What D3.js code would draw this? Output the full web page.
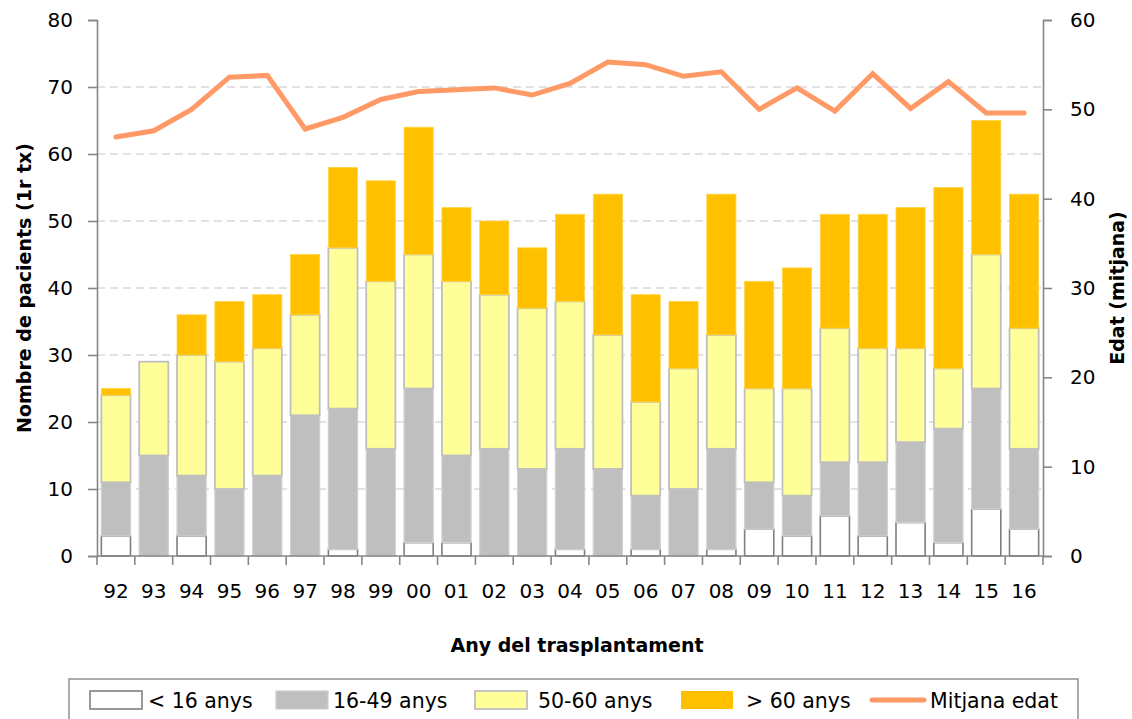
<!DOCTYPE html>
<html>
<head>
<meta charset="utf-8">
<script src="https://cdn.jsdelivr.net/npm/d3@7"></script>
<style>
  html, body { margin: 0; padding: 0; background: #fff; }
  svg { display: block; font-family: "DejaVu Sans", sans-serif; }
</style>
</head>
<body>
<svg id="chart" width="1132" height="719"></svg>
<script>
const years = ["92","93","94","95","96","97","98","99","00","01","02","03","04","05","06","07","08","09","10","11","12","13","14","15","16"];
const under16 = [3,0,3,0,0,0,1,0,2,2,0,0,1,0,1,0,1,4,3,6,3,5,2,7,4];
const age16to49 = [8,15,9,10,12,21,21,16,23,13,16,13,15,13,8,10,15,7,6,8,11,12,17,18,12];
const age50to60 = [13,14,18,19,19,15,24,25,20,26,23,24,22,20,14,18,17,14,16,20,17,14,9,20,18];
const over60 = [1,0,6,9,8,9,12,15,19,11,11,9,13,21,16,10,21,16,18,17,20,21,27,20,20];
const meanAge = [46.9,47.6,50.0,53.6,53.8,47.8,49.1,51.1,52.0,52.2,52.4,51.6,52.9,55.3,55.0,53.7,54.2,50.0,52.4,49.8,54.0,50.1,53.1,49.6,49.6];
const leftTicks = [0,10,20,30,40,50,60,70,80];
const rightTicks = [0,10,20,30,40,50,60];
const seriesNames = ["< 16 anys","16-49 anys","50-60 anys","> 60 anys"];
const lineName = "Mitjana edat";

const keys = ["u16","a1649","a5060","o60"];
const table = years.map((y,i) => ({year:y, u16:under16[i], a1649:age16to49[i], a5060:age50to60[i], o60:over60[i]}));

const styles = {
  u16:   {fill:"#ffffff", stroke:"#7f7f7f", sw:1.6},
  a1649: {fill:"#bfbfbf", stroke:"#d0d0d0", sw:1.2},
  a5060: {fill:"#ffff99", stroke:"#bfbfbf", sw:1.8},
  o60:   {fill:"#ffc000", stroke:"#ffd447", sw:0.8}
};
const lineColor = "#ff9966";

const svg = d3.select("#chart");
const L = 97, R = 1043, T = 20, B = 556;

const x = d3.scaleBand().domain(years).range([L, R]).paddingInner(0.23).paddingOuter(0.115);
const y = d3.scaleLinear().domain([0, 80]).range([B, T]);
const y2 = d3.scaleLinear().domain([0, 60]).range([B, T]);

// gridlines
svg.append("g").selectAll("line").data(leftTicks.filter(t => t > 0 && t < 80)).join("line")
  .attr("x1", L).attr("x2", R).attr("y1", d => y(d)).attr("y2", d => y(d))
  .attr("stroke", "#d9d9d9").attr("stroke-width", 1.5).attr("stroke-dasharray", "8,5");

// stacked bars
const stacked = d3.stack().keys(keys)(table);
const gBars = svg.append("g");
stacked.forEach(layer => {
  const st = styles[layer.key];
  gBars.append("g").selectAll("rect").data(layer.filter(d => d[1] - d[0] > 0)).join("rect")
    .attr("x", d => x(d.data.year))
    .attr("width", x.bandwidth())
    .attr("y", d => y(d[1]))
    .attr("height", d => y(d[0]) - y(d[1]))
    .attr("fill", st.fill)
    .attr("stroke", st.stroke)
    .attr("stroke-width", st.sw);
});

// axes
const axisColor = "#868686";
const xAxis = svg.append("g").attr("transform", `translate(0,${B})`)
  .call(d3.axisBottom(x).tickSize(0).tickPadding(28));
xAxis.select(".domain").remove();
xAxis.selectAll("text").attr("font-size", 20).attr("fill", "#000").attr("font-family", "DejaVu Sans");
svg.append("line").attr("x1", L).attr("x2", R).attr("y1", B).attr("y2", B)
  .attr("stroke", axisColor).attr("stroke-width", 1.6);
const bounds = years.map(yr => x(yr) - x.step() * x.paddingInner() / 2).concat([R]);
bounds[0] = L;
svg.append("g").selectAll("line").data(bounds).join("line")
  .attr("x1", d => d).attr("x2", d => d).attr("y1", B).attr("y2", B + 9)
  .attr("stroke", axisColor).attr("stroke-width", 1.6);

const yAxis = svg.append("g").attr("transform", `translate(${L},0)`)
  .call(d3.axisLeft(y).tickValues(leftTicks).tickSize(9).tickPadding(15).tickFormat(d3.format("d")));
yAxis.select(".domain").attr("stroke", axisColor).attr("stroke-width", 1.6);
yAxis.selectAll(".tick line").attr("stroke", axisColor).attr("stroke-width", 1.6);
yAxis.selectAll("text").attr("font-size", 20).attr("fill", "#000").attr("font-family", "DejaVu Sans");

const y2Axis = svg.append("g").attr("transform", `translate(${R},0)`)
  .call(d3.axisRight(y2).tickValues(rightTicks).tickSize(9).tickPadding(18).tickFormat(d3.format("d")));
y2Axis.select(".domain").attr("stroke", axisColor).attr("stroke-width", 1.6);
y2Axis.selectAll(".tick line").attr("stroke", axisColor).attr("stroke-width", 1.6);
y2Axis.selectAll("text").attr("font-size", 20).attr("fill", "#000").attr("font-family", "DejaVu Sans");

// mean age line
const line = d3.line().x((d,i) => x(years[i]) + x.bandwidth()/2).y(d => y2(d));
svg.append("path").datum(meanAge).attr("d", line)
  .attr("fill", "none").attr("stroke", lineColor).attr("stroke-width", 5)
  .attr("stroke-linecap", "round").attr("stroke-linejoin", "miter");

// axis titles
svg.append("text").attr("transform", `translate(31,${(T+B)/2}) rotate(-90)`)
  .attr("text-anchor", "middle").attr("font-weight", "bold").attr("font-size", 19)
  .text("Nombre de pacients (1r tx)");
svg.append("text").attr("transform", `translate(1124,${(T+B)/2}) rotate(-90)`)
  .attr("text-anchor", "middle").attr("font-weight", "bold").attr("font-size", 19)
  .text("Edat (mitjana)");
svg.append("text").attr("x", 577).attr("y", 652)
  .attr("text-anchor", "middle").attr("font-weight", "bold").attr("font-size", 19)
  .text("Any del trasplantament");

// legend
svg.append("rect").attr("x", 69).attr("y", 679).attr("width", 1009).attr("height", 60)
  .attr("fill", "#fff").attr("stroke", "#808080").attr("stroke-width", 1.3);
const legX = [90, 276, 475, 681];
const legTextX = [148, 333, 538, 746];
keys.forEach((k, i) => {
  const st = styles[k];
  svg.append("rect").attr("x", legX[i]).attr("y", 691).attr("width", 52).attr("height", 18)
    .attr("fill", st.fill).attr("stroke", k === "o60" ? "none" : st.stroke).attr("stroke-width", st.sw);
  svg.append("text").attr("x", legTextX[i]).attr("y", 708).attr("font-size", 20.5).text(seriesNames[i]);
});
svg.append("line").attr("x1", 872).attr("x2", 924).attr("y1", 700).attr("y2", 700)
  .attr("stroke", lineColor).attr("stroke-width", 5).attr("stroke-linecap", "round");
svg.append("text").attr("x", 930).attr("y", 708).attr("font-size", 20.5).text(lineName);
</script>
</body>
</html>
